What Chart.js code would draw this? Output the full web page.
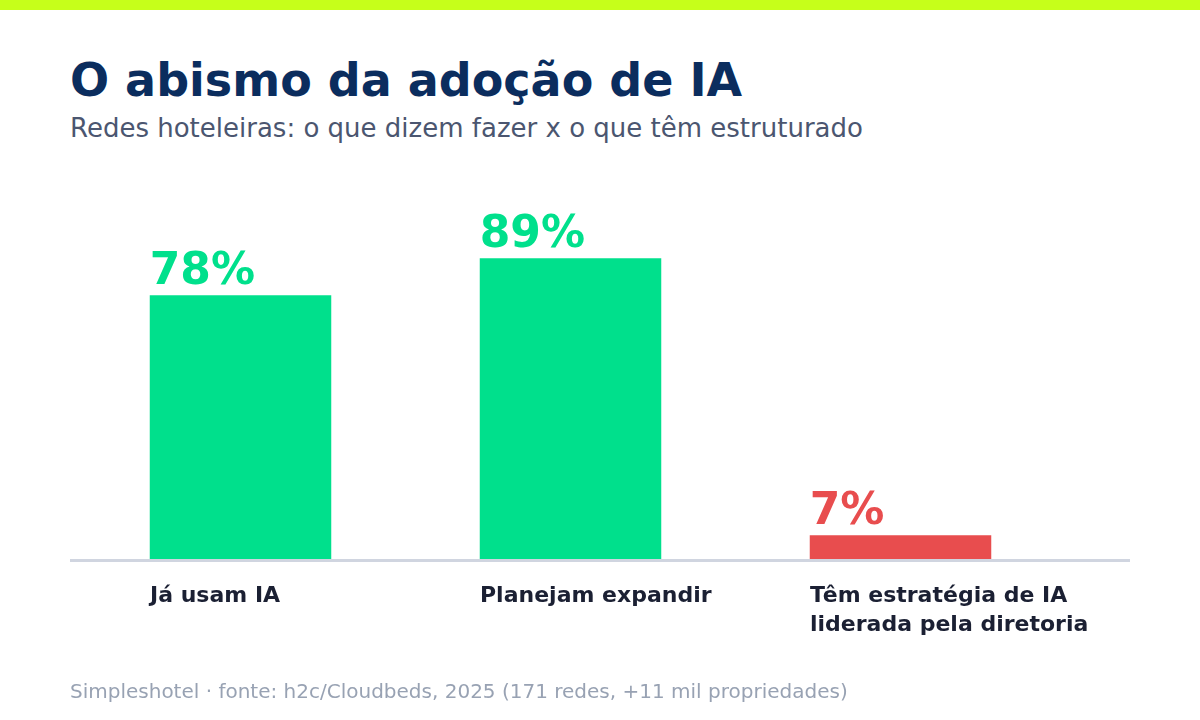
<!DOCTYPE html>
<html lang="pt-BR">
<head>
<meta charset="utf-8">
<title>O abismo da adoção de IA</title>
<script src="https://cdn.jsdelivr.net/npm/chart.js@4.4.1/dist/chart.umd.min.js"></script>
<style>
  html, body { margin: 0; padding: 0; background: #ffffff; }
  body { width: 1200px; height: 720px; position: relative; overflow: hidden; font-family: "DejaVu Sans", sans-serif; }
  .topbar { position: absolute; left: 0; top: 0; width: 1200px; height: 10px; background: #C6FF1A; }
  .title { position: absolute; left: 70px; top: 57px; font-size: 46px; line-height: 46px; font-weight: bold; color: #0B2D5E; white-space: nowrap; }
  .subtitle { position: absolute; left: 70px; top: 115px; font-size: 26px; line-height: 26px; color: #4B5670; white-space: nowrap; }
  .footer { position: absolute; left: 70px; top: 681px; font-size: 20px; line-height: 20px; color: #98A2B3; white-space: nowrap; }
  #chart { position: absolute; left: 0; top: 0; }
</style>
</head>
<body>
<div class="topbar"></div>
<div class="title">O abismo da adoção de IA</div>
<div class="subtitle">Redes hoteleiras: o que dizem fazer x o que têm estruturado</div>
<canvas id="chart" width="1200" height="720"></canvas>
<div class="footer">Simpleshotel · fonte: h2c/Cloudbeds, 2025 (171 redes, +11 mil propriedades)</div>

<script>
// dados
const categories = [
  'Já usam IA',
  'Planejam expandir',
  ['Têm estratégia de IA', 'liderada pela diretoria']
]
const values = [78, 89, 7]

const GREEN = '#00E08C'
const RED = '#E84D4E'
const barColors = [GREEN, GREEN, RED]

// linha de base mais larga que a área do gráfico + rótulos de valor
const baselineAndLabels = {
  id: 'baselineAndLabels',
  beforeDatasetsDraw(chart) {
    const ctx = chart.ctx
    const y = chart.chartArea.bottom + 1.5
    ctx.save()
    ctx.strokeStyle = '#D0D5E0'
    ctx.lineWidth = 3
    ctx.beginPath()
    ctx.moveTo(70, y)
    ctx.lineTo(1130, y)
    ctx.stroke()
    ctx.restore()
  },
  afterDatasetsDraw(chart) {
    const ctx = chart.ctx
    const meta = chart.getDatasetMeta(0)
    ctx.save()
    ctx.font = 'bold 44px "DejaVu Sans"'
    ctx.textAlign = 'left'
    ctx.textBaseline = 'alphabetic'
    meta.data.forEach((bar, i) => {
      ctx.fillStyle = barColors[i]
      ctx.fillText(values[i] + '%', bar.x - bar.width / 2, bar.y - 11)
    })
    ctx.restore()
  }
}

new Chart(document.getElementById('chart'), {
  type: 'bar',
  data: {
    labels: categories,
    datasets: [{
      data: values,
      backgroundColor: barColors,
      borderWidth: 0,
      barPercentage: 0.55,
      categoryPercentage: 1.0
    }]
  },
  options: {
    responsive: false,
    animation: false,
    layout: {
      padding: { left: 75.5, right: 134.5, top: 221, bottom: 61 }
    },
    plugins: {
      legend: { display: false },
      tooltip: { enabled: false }
    },
    scales: {
      x: {
        grid: { display: false, drawTicks: false },
        border: { display: false },
        ticks: {
          align: 'start',
          labelOffset: -90.5,
          padding: 23,
          color: '#1B2033',
          font: { family: '"DejaVu Sans"', size: 22, weight: 'bold', lineHeight: 1.3 },
          maxRotation: 0,
          autoSkip: false
        },
        afterFit(scale) {
          // altura fixa e sem folga lateral para os rótulos
          scale.height = 100
          scale.paddingLeft = 0
          scale.paddingRight = 0
        }
      },
      y: {
        display: false,
        min: 0,
        max: 100
      }
    }
  },
  plugins: [baselineAndLabels]
})
</script>
</body>
</html>
